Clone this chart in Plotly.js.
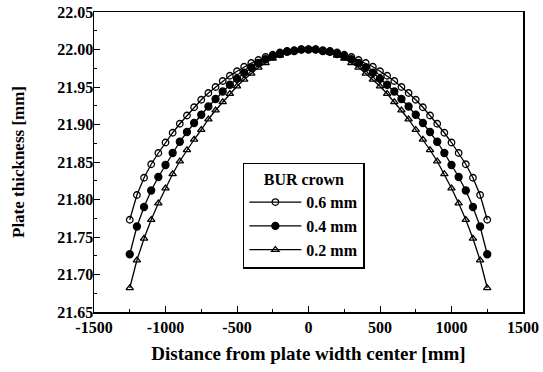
<!DOCTYPE html>
<html>
<head>
<meta charset="utf-8">
<script src="https://cdn.plot.ly/plotly-3.0.1.min.js"></script>
<style>
html,body{margin:0;padding:0;background:#fff;}
#chart{width:543px;height:372px;}
</style>
</head>
<body>
<div id="chart"></div>
<script>
// Distance from plate width center [mm] (half profile, mirrored below)
const xHalf = [0, 50, 100, 150, 200, 250, 300, 350, 400, 450, 500, 550, 600, 650, 700, 750, 800, 850, 900, 950, 1000, 1050, 1100, 1150, 1200, 1250];
// Plate thickness [mm] for each BUR crown
const crown06 = [22.000, 22.000, 21.999, 21.998, 21.996, 21.993, 21.990, 21.986, 21.982, 21.977, 21.971, 21.965, 21.958, 21.950, 21.942, 21.933, 21.923, 21.912, 21.901, 21.889, 21.876, 21.862, 21.847, 21.829, 21.806, 21.773];
const crown04 = [22.000, 22.000, 21.998, 21.997, 21.994, 21.991, 21.987, 21.982, 21.976, 21.969, 21.961, 21.953, 21.944, 21.934, 21.924, 21.913, 21.902, 21.890, 21.877, 21.862, 21.846, 21.830, 21.812, 21.790, 21.764, 21.727];
const crown02 = [22.000, 22.000, 21.998, 21.996, 21.992, 21.988, 21.982, 21.976, 21.968, 21.960, 21.951, 21.941, 21.930, 21.919, 21.907, 21.893, 21.880, 21.866, 21.851, 21.834, 21.815, 21.795, 21.773, 21.748, 21.719, 21.682];
const seriesNames = ['0.6 mm', '0.4 mm', '0.2 mm'];
const legendTitle = 'BUR crown';
const xTitle = 'Distance from plate width center [mm]';
const yTitle = 'Plate thickness [mm]';
const xTickVals = [-1500, -1000, -500, 0, 500, 1000, 1500];
const xTickText = ['-1500', '-1000', '-500', '0', '500', '1000', '1500'];
const yTickVals = [21.65, 21.70, 21.75, 21.80, 21.85, 21.90, 21.95, 22.00, 22.05];
const yTickText = ['21.65', '21.70', '21.75', '21.80', '21.85', '21.90', '21.95', '22.00', '22.05'];

function full(xs, ys) {
  const fx = [], fy = [];
  for (let i = xs.length - 1; i > 0; i--) { fx.push(-xs[i]); fy.push(ys[i]); }
  for (let i = 0; i < xs.length; i++) { fx.push(xs[i]); fy.push(ys[i]); }
  return {x: fx, y: fy};
}

const FONT = 'Liberation Serif, Times New Roman, serif';
const symbols = ['circle-open', 'circle', 'triangle-up-open'];
const sizes = [6.5, 7, 6.5];
const data = [crown06, crown04, crown02].map((ys, i) => {
  const f = full(xHalf, ys);
  return {
    type: 'scatter', mode: 'lines+markers', name: seriesNames[i],
    x: f.x, y: f.y,
    line: {color: '#000', width: 1.3},
    marker: {symbol: symbols[i], size: sizes[i], color: '#000', line: {color: '#000', width: 1.3}}
  };
});

const layout = {
  width: 543, height: 372,
  margin: {l: 94, r: 20, t: 12, b: 60},
  paper_bgcolor: '#fff', plot_bgcolor: '#fff',
  font: {family: FONT, color: '#000', size: 16, weight: 'bold'},
  showlegend: true,
  legend: {
    x: 0.347, y: 0.497, xanchor: 'left', yanchor: 'top',
    bgcolor: '#fff', bordercolor: '#000', borderwidth: 1.5,
    font: {family: FONT, size: 16, color: '#000', weight: 'bold'},
    title: {text: legendTitle, side: 'top center', font: {family: FONT, size: 16, weight: 'bold'}},
    itemwidth: 52, tracegroupgap: 0
  },
  xaxis: {
    range: [-1500, 1500], tickmode: 'array', tickvals: xTickVals, ticktext: xTickText,
    showgrid: false, zeroline: false,
    showline: true, linecolor: '#000', linewidth: 1.5, mirror: true,
    ticks: 'inside', ticklen: 6, tickwidth: 1, tickcolor: '#000',
    minor: {ticks: 'inside', ticklen: 3, tickcolor: '#000', dtick: 250},
    tickfont: {family: FONT, size: 16, weight: 'bold'},
    title: {text: xTitle, font: {family: FONT, size: 19, weight: 'bold'}, standoff: 12}
  },
  yaxis: {
    range: [21.65, 22.05], tickmode: 'array', tickvals: yTickVals, ticktext: yTickText,
    showgrid: false, zeroline: false,
    showline: true, linecolor: '#000', linewidth: 1.5, mirror: true,
    ticks: 'inside', ticklen: 6, tickwidth: 1, tickcolor: '#000',
    minor: {ticks: 'inside', ticklen: 3, tickcolor: '#000', dtick: 0.025},
    tickfont: {family: FONT, size: 16, weight: 'bold'},
    ticklabelstandoff: -4,
    title: {text: yTitle, font: {family: FONT, size: 17, weight: 'bold'}, standoff: 28}
  }
};

Plotly.newPlot('chart', data, layout, {staticPlot: true, displayModeBar: false});
</script>
</body>
</html>
